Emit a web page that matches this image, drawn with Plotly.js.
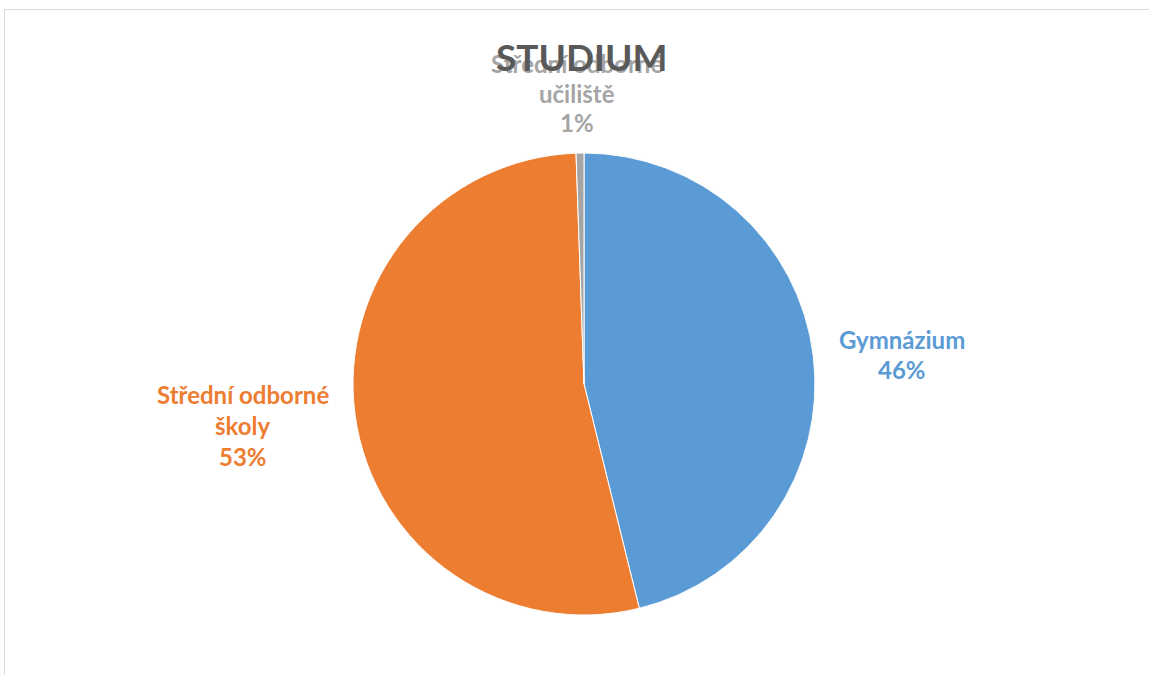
<!DOCTYPE html>
<html><head><meta charset="utf-8">
<script src="https://cdn.plot.ly/plotly-3.0.1.min.js"></script>
<style>html,body{margin:0;padding:0;background:#fff}#c{width:1149px;height:675px}</style>
</head><body><div id="c"></div>
<script>
const categories = ["Gymnázium", "Střední odborné<br>školy", "Střední odborné<br>učiliště"];
const values = [84, 97, 1];
const colors = ["#5B9BD5", "#ED7D31", "#A5A5A5"];
const titleText = "STUDIUM";

const W = 1149, H = 675;
const cx = 584, cy = 384, r = 231;
// label placement (pixel centre x, first line centre y, line step)
const labelPos = [[902, 339, 30], [243, 394, 31.5], [577, 64, 29]];
const FONT = "Lato, 'Open Sans', sans-serif";

const trace = {
  type: "pie",
  labels: categories,
  values: values,
  sort: false,
  direction: "clockwise",
  rotation: 0,
  marker: {colors: colors, line: {color: "#ffffff", width: 1}},
  textinfo: "none",
  showlegend: false,
  hoverinfo: "none",
  domain: {x: [(cx - r) / W, (cx + r) / W], y: [(H - cy - r) / H, (H - cy + r) / H]}
};

const total = values.reduce((a, b) => a + b, 0);
const annotations = [];
categories.forEach((c, i) => {
  const lines = c.split("<br>").concat([Math.round(values[i] / total * 100) + "%"]);
  const [px, py, step] = labelPos[i];
  lines.forEach((t, j) => {
    annotations.push({
      xref: "paper", yref: "paper", x: px / W, y: 1 - (py + j * step) / H,
      xanchor: "center", yanchor: "middle", showarrow: false, text: t,
      font: {family: FONT, size: 24, color: colors[i], weight: "bold"}
    });
  });
});
annotations.push({
  xref: "paper", yref: "paper", x: 582 / W, y: 1 - 57 / H, xanchor: "center", yanchor: "middle",
  showarrow: false, text: titleText,
  font: {family: FONT, size: 37, color: "#595959", weight: "bold"}
});

const layout = {
  width: W, height: H,
  margin: {l: 0, r: 0, t: 0, b: 0},
  paper_bgcolor: "#ffffff",
  annotations: annotations,
  shapes: [{type: "rect", xref: "paper", yref: "paper", x0: 4.5 / W, x1: 1.02, y0: -0.02, y1: 1 - 9.5 / H,
            line: {color: "#D9D9D9", width: 1}, fillcolor: "rgba(0,0,0,0)"}]
};

Plotly.newPlot("c", [trace], layout, {staticPlot: true, displayModeBar: false});
</script>
</body></html>
